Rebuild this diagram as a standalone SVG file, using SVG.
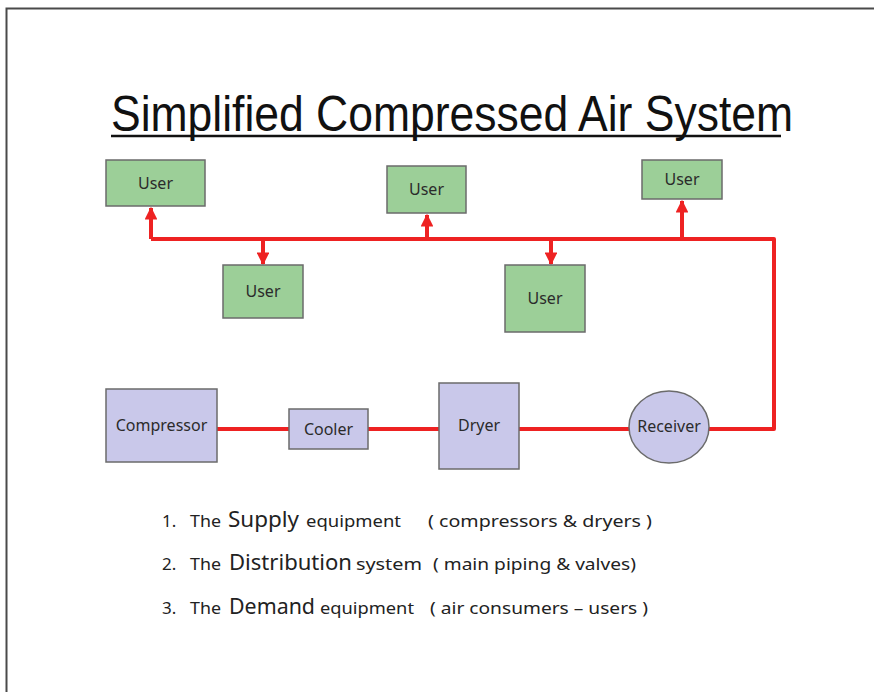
<svg xmlns="http://www.w3.org/2000/svg" width="874" height="692" viewBox="0 0 874 692">
<defs>
<style>
.user rect{fill:#9ccf98;stroke:#6b6b6b;stroke-width:1.5}
.equip rect,.equip ellipse{fill:#c9c8ea;stroke:#6b6b6b;stroke-width:1.5}
.lbl{font-family:"Noto Sans","DejaVu Sans",sans-serif;font-size:16px;fill:#2b2b2b;text-anchor:middle}
.pipe{fill:none;stroke:#ee2222;stroke-width:4;stroke-linejoin:round}
.sm{font-family:"Noto Sans","DejaVu Sans",sans-serif;font-size:17px;fill:#222}
.lg{font-family:"Noto Sans","DejaVu Sans",sans-serif;font-size:21px;fill:#222}
</style>
<marker id="ah" viewBox="0 0 10 10" refX="9" refY="5" markerWidth="3.2" markerHeight="3.2" orient="auto" markerUnits="strokeWidth">
<path d="M0,0 L10,5 L0,10 z" fill="#ee2222"/>
</marker>
</defs>
<rect x="0" y="0" width="874" height="692" fill="#ffffff"/>
<path d="M6.5,692 V8.5 H874" fill="none" stroke="#4a4a4a" stroke-width="2"/>
<g id="title">
<text x="111" y="131" font-family="Liberation Sans, Arial, sans-serif" font-size="50" fill="#111" textLength="682" lengthAdjust="spacingAndGlyphs">Simplified Compressed Air System</text>
<line x1="111" y1="136" x2="781" y2="136" stroke="#111" stroke-width="2.5"/>
</g>
<g id="connectors">
<path class="pipe" d="M217,429 H289 M368,429 H439 M519,429 H630 M709,429 H774 V239 H151"/>
<path class="pipe" d="M151,239 V208" marker-end="url(#ah)"/>
<path class="pipe" d="M263,239 V264" marker-end="url(#ah)"/>
<path class="pipe" d="M427,239 V215" marker-end="url(#ah)"/>
<path class="pipe" d="M551,239 V264" marker-end="url(#ah)"/>
<path class="pipe" d="M682,239 V201" marker-end="url(#ah)"/>
</g>
<g id="user1" class="user"><rect x="106" y="160" width="99" height="46"/><text class="lbl" x="155.5" y="189">User</text></g>
<g id="user2" class="user"><rect x="387" y="166" width="79" height="47"/><text class="lbl" x="426.5" y="195">User</text></g>
<g id="user3" class="user"><rect x="223" y="265" width="80" height="53"/><text class="lbl" x="263" y="297">User</text></g>
<g id="user4" class="user"><rect x="642" y="160" width="80" height="39"/><text class="lbl" x="682" y="185">User</text></g>
<g id="user5" class="user"><rect x="505" y="265" width="80" height="67"/><text class="lbl" x="545" y="304">User</text></g>
<g id="compressor" class="equip"><rect x="106" y="389" width="111" height="73"/><text class="lbl" x="161.5" y="431">Compressor</text></g>
<g id="cooler" class="equip"><rect x="289" y="409" width="79" height="40"/><text class="lbl" x="328.5" y="435">Cooler</text></g>
<g id="dryer" class="equip"><rect x="439" y="383" width="80" height="86"/><text class="lbl" x="479" y="431">Dryer</text></g>
<g id="receiver" class="equip"><ellipse cx="669" cy="427" rx="40" ry="36"/><text class="lbl" x="669" y="432">Receiver</text></g>
<g id="legend">
<text class="sm" x="162" y="527">1.</text>
<text class="sm" x="190" y="527" textLength="31" lengthAdjust="spacingAndGlyphs">The</text>
<text class="lg" x="228" y="527" textLength="71" lengthAdjust="spacingAndGlyphs">Supply</text>
<text class="sm" x="306" y="527" textLength="95" lengthAdjust="spacingAndGlyphs">equipment</text>
<text class="sm" x="428" y="527" textLength="224" lengthAdjust="spacingAndGlyphs">( compressors &amp; dryers )</text>
<text class="sm" x="162" y="570">2.</text>
<text class="sm" x="190" y="570" textLength="31" lengthAdjust="spacingAndGlyphs">The</text>
<text class="lg" x="229" y="570" textLength="123" lengthAdjust="spacingAndGlyphs">Distribution</text>
<text class="sm" x="356" y="570" textLength="66" lengthAdjust="spacingAndGlyphs">system</text>
<text class="sm" x="433" y="570" textLength="203" lengthAdjust="spacingAndGlyphs">( main piping &amp; valves)</text>
<text class="sm" x="162" y="614">3.</text>
<text class="sm" x="190" y="614" textLength="31" lengthAdjust="spacingAndGlyphs">The</text>
<text class="lg" x="229" y="614" textLength="86" lengthAdjust="spacingAndGlyphs">Demand</text>
<text class="sm" x="320" y="614" textLength="94" lengthAdjust="spacingAndGlyphs">equipment</text>
<text class="sm" x="430" y="614" textLength="218" lengthAdjust="spacingAndGlyphs">( air consumers – users )</text>
</g>
</svg>
